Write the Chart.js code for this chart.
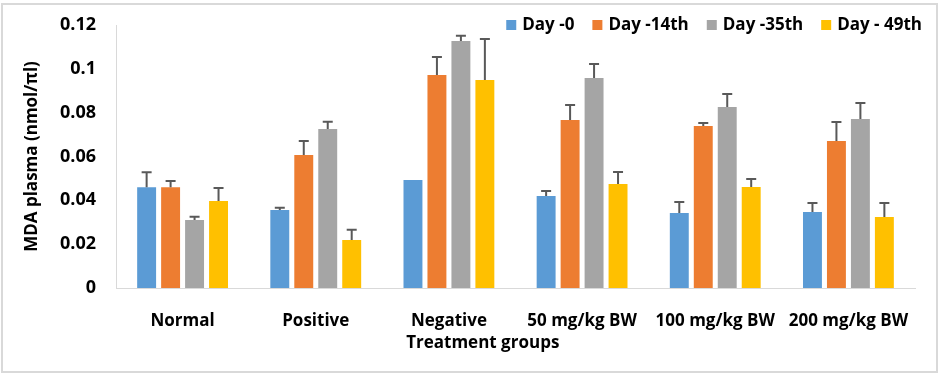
<!DOCTYPE html>
<html>
<head>
<meta charset="utf-8">
<script src="https://cdn.jsdelivr.net/npm/chart.js@4.4.0/dist/chart.umd.min.js"></script>
<style>
  html, body { margin: 0; padding: 0; background: #fff; }
  canvas { display: block; }
</style>
</head>
<body>
<canvas id="grafico" width="942" height="375"></canvas>
<script>
// Dados
const grupos = ['Normal', 'Positive', 'Negative', '50 mg/kg BW', '100 mg/kg BW', '200 mg/kg BW'];
const series = ['Day -0', 'Day -14th', 'Day -35th', 'Day - 49th'];
const day0 = [0.046, 0.0356, 0.0493, 0.042, 0.0342, 0.0347];
const day0Err = [0.0068, 0.001, 0, 0.0023, 0.005, 0.0041];
const day14 = [0.046, 0.0607, 0.0972, 0.0767, 0.0739, 0.0671];
const day14Err = [0.0028, 0.0064, 0.0082, 0.0068, 0.0014, 0.0086];
const day35 = [0.031, 0.0725, 0.1127, 0.0958, 0.0826, 0.0771];
const day35Err = [0.0015, 0.0034, 0.0024, 0.0064, 0.0059, 0.0073];
const day49 = [0.0397, 0.0219, 0.0949, 0.0475, 0.0461, 0.0324];
const day49Err = [0.0059, 0.0047, 0.0187, 0.0054, 0.0036, 0.0064];
const yTicks = [0, 0.02, 0.04, 0.06, 0.08, 0.1, 0.12];

const cores = ['#5B9BD5', '#ED7D31', '#A5A5A5', '#FFC000'];
const valores = [day0, day14, day35, day49];
const erros = [day0Err, day14Err, day35Err, day49Err];
const FONTE = '"Open Sans"';

// Barras de erro (só para cima)
const barrasErro = {
  id: 'barrasErro',
  afterDatasetsDraw(chart) {
    const ctx = chart.ctx;
    const y = chart.scales.y;
    ctx.save();
    ctx.strokeStyle = '#595959';
    ctx.lineWidth = 2;
    chart.data.datasets.forEach((ds, i) => {
      const meta = chart.getDatasetMeta(i);
      meta.data.forEach((bar, j) => {
        const e = ds.erro[j];
        if (!e) return;
        const topo = y.getPixelForValue(ds.data[j] + e);
        ctx.beginPath();
        ctx.moveTo(bar.x, bar.y);
        ctx.lineTo(bar.x, topo);
        ctx.moveTo(bar.x - 5, topo);
        ctx.lineTo(bar.x + 5, topo);
        ctx.stroke();
      });
    });
    ctx.restore();
  }
};

// Legenda, título do eixo X e moldura
const extras = {
  id: 'extras',
  beforeDraw(chart) {
    const ctx = chart.ctx;
    ctx.save();
    ctx.fillStyle = '#fff';
    ctx.fillRect(0, 0, chart.width, chart.height);
    ctx.strokeStyle = '#d9d9d9';
    ctx.lineWidth = 2;
    ctx.strokeRect(2, 4, 935, 368);
    ctx.restore();
  },
  afterDraw(chart) {
    const ctx = chart.ctx;
    const area = chart.chartArea;
    ctx.save();
    ctx.font = 'bold 17px ' + FONTE;
    ctx.textBaseline = 'middle';
    ctx.fillStyle = '#000';
    // legenda da direita pra esquerda
    let x = 922;
    const yLeg = 25;
    for (let i = series.length - 1; i >= 0; i--) {
      const w = ctx.measureText(series[i]).width;
      ctx.textAlign = 'left';
      ctx.fillText(series[i], x - w, yLeg);
      x -= w + 6;
      ctx.fillStyle = cores[i];
      ctx.fillRect(x - 10, yLeg - 5, 10, 10);
      ctx.fillStyle = '#000';
      x -= 10 + 18;
    }
    // título eixo X
    ctx.textAlign = 'center';
    ctx.fillText('Treatment groups', area.left + (area.right - area.left) * 0.459, 343);
    ctx.restore();
  }
};

new Chart(document.getElementById('grafico'), {
  type: 'bar',
  data: {
    labels: grupos,
    datasets: series.map((s, i) => ({
      label: s,
      data: valores[i],
      erro: erros[i],
      backgroundColor: cores[i],
      borderWidth: 0,
      categoryPercentage: 0.72,
      barPercentage: 0.79
    }))
  },
  options: {
    responsive: false,
    animation: false,
    layout: { padding: { top: 25, right: 27, left: 0, bottom: 0 } },
    plugins: {
      legend: { display: false },
      tooltip: { enabled: false }
    },
    scales: {
      x: {
        grid: { display: false, drawTicks: false },
        border: { color: '#d9d9d9', width: 1 },
        ticks: {
          color: '#000',
          padding: 23,
          maxRotation: 0,
          autoSkip: false,
          font: { family: FONTE, size: 17, weight: 'bold' }
        },
        afterFit(scale) {
          scale.height = 87;
          scale.paddingLeft = 0;
          scale.paddingRight = 0;
        }
      },
      y: {
        min: 0,
        max: 0.12,
        grid: { display: false, drawTicks: false },
        border: { color: '#d9d9d9', width: 1 },
        afterBuildTicks(scale) { scale.ticks = yTicks.map(v => ({ value: v })); },
        ticks: {
          color: '#000',
          padding: 20,
          font: { family: FONTE, size: 18, weight: 'bold' },
          callback: v => String(+v.toFixed(2))
        },
        title: {
          display: true,
          text: 'MDA plasma (nmol/πl)',
          color: '#000',
          padding: { top: 22, bottom: 0 },
          font: { family: FONTE, size: 17, weight: 'bold' }
        },
        afterFit(scale) {
          scale.width = 116;
          scale.paddingTop = 0;
          scale.paddingBottom = 0;
        }
      }
    }
  },
  plugins: [barrasErro, extras]
});
</script>
</body>
</html>
